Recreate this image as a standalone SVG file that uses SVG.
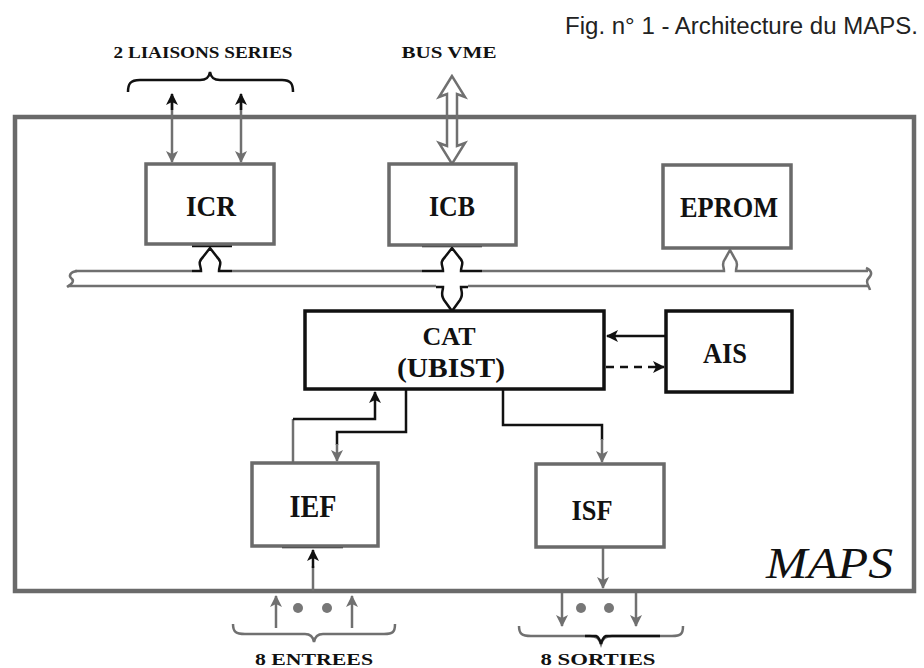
<svg xmlns="http://www.w3.org/2000/svg" width="924" height="668" viewBox="0 0 924 668">
<style>
.lbl{font-family:"Liberation Serif",serif;font-weight:bold;fill:#111;text-anchor:middle}
.g{fill:none;stroke:#707070;stroke-width:2.5}
.k{fill:none;stroke:#111;stroke-width:2.5}
.gbox{fill:#fff;stroke:#6a6a6a;stroke-width:3.5}
.kbox{fill:#fff;stroke:#111;stroke-width:3.5}
</style>
<defs>
<marker id="ag" markerWidth="12" markerHeight="14" refX="11" refY="6" orient="auto" markerUnits="userSpaceOnUse"><path d="M0,0 L12,6 L0,12 L3,6 Z" fill="#707070"/></marker>
<marker id="ak" markerWidth="12" markerHeight="14" refX="11" refY="6" orient="auto" markerUnits="userSpaceOnUse"><path d="M0,0 L12,6 L0,12 L3,6 Z" fill="#111"/></marker>
</defs>
<rect width="924" height="668" fill="#fff"/>
<text x="565" y="34" font-family="Liberation Sans,sans-serif" font-size="23" textLength="353" lengthAdjust="spacingAndGlyphs" fill="#222">Fig. n° 1 - Architecture du MAPS.</text>
<text class="lbl" x="203" y="58" font-size="16" textLength="179" lengthAdjust="spacingAndGlyphs">2 LIAISONS  SERIES</text>
<text class="lbl" x="449" y="58" font-size="16" textLength="95" lengthAdjust="spacingAndGlyphs">BUS  VME</text>
<!-- outer box -->
<g id="maps">
<rect x="15" y="117" width="899" height="474" fill="none" stroke="#6a6a6a" stroke-width="4.5"/>
<text x="766" y="578" font-family="Liberation Serif,serif" font-style="italic" font-size="44" textLength="127" lengthAdjust="spacingAndGlyphs" fill="#111">MAPS</text>
</g>
<g id="connectors">
<!-- liaisons brace -->
<path class="k" d="M128,92 C128,84 130,80 140,80 L200,80 C206,80 209,78 210,72 C211,78 214,80 220,80 L282,80 C291,80 293,84 293,92"/>
<!-- ICR serial arrows -->
<line class="g" x1="172" y1="96" x2="172" y2="162" marker-end="url(#ag)"/>
<line class="k" x1="172" y1="110" x2="172" y2="94" marker-end="url(#ak)"/>
<line class="g" x1="241" y1="96" x2="241" y2="162" marker-end="url(#ag)"/>
<line class="k" x1="241" y1="110" x2="241" y2="94" marker-end="url(#ak)"/>
<!-- VME hollow double arrow -->
<path class="g" d="M452,76 L439,97 L447,94 L447,146 L439,143 L452,164 L465,143 L457,146 L457,94 L465,97 Z"/>
<!-- bus -->
<path class="g" d="M75,271 L192,271 M232,271 L422,271 M482,271 L718,271 M740,271 L868,271"/>
<path class="g" d="M68,286 L436,286 M468,286 L868,286"/>
<path class="g" d="M77,271 C70,272 68,276 72,279 C75,282 70,285 67,287"/>
<path class="g" d="M866,268 C873,271 872,275 868,279 C865,282 869,286 870,290"/>
<!-- ICR bus connection -->
<line class="k" x1="192" y1="246" x2="232" y2="246"/>
<path class="k" d="M192,271 L201,271 C201,265 197,263 203,257 L210,248 L217,257 C223,263 219,265 219,271 L232,271"/>
<!-- ICB bus connection -->
<line class="k" x1="422" y1="246" x2="482" y2="246" stroke-width="3"/>
<path class="k" d="M422,271 L443,271 C443,265 439,263 445,257 L452,248 L459,257 C465,263 461,265 461,271 L482,271" stroke-width="3"/>
<path class="k" d="M436,287 L443,287 C443,292 440,294 444,300 L452,311 L460,300 C464,294 461,292 461,287 L468,287" stroke-width="3"/>
<!-- EPROM bus connection -->
<path class="g" d="M718,271 L724,271 C724,266 721,264 725,259 L730,250 L735,259 C739,264 736,266 736,271 L740,271"/>
<!-- AIS <-> CAT -->
<line class="k" x1="666" y1="336" x2="607" y2="336" marker-end="url(#ak)"/>
<line class="k" x1="606" y1="367" x2="664" y2="367" stroke-dasharray="8,6" marker-end="url(#ak)"/>
<!-- IEF -> CAT -->
<path class="g" d="M293,462 L293,419"/>
<path class="k" d="M293,419 L375,419 L375,392" marker-end="url(#ak)"/>
<!-- CAT -> IEF -->
<path class="k" d="M406,390 L406,432 L337,432 L337,445"/>
<line class="g" x1="337" y1="444" x2="337" y2="461" marker-end="url(#ag)"/>
<!-- CAT -> ISF -->
<path class="k" d="M503,390 L503,425 L602,425 L602,440"/>
<line class="g" x1="602" y1="439" x2="602" y2="462" marker-end="url(#ag)"/>
<!-- IEF input -->
<line class="k" x1="282" y1="547" x2="343" y2="547" stroke-width="3"/>
<line class="g" x1="313" y1="591" x2="313" y2="566"/>
<line class="k" x1="313" y1="568" x2="313" y2="550" marker-end="url(#ak)"/>
<!-- ISF output -->
<line class="g" x1="603" y1="548" x2="603" y2="588" marker-end="url(#ag)"/>
<!-- entrees -->
<line class="g" x1="276" y1="628" x2="276" y2="596" marker-end="url(#ag)"/>
<line class="g" x1="352" y1="628" x2="352" y2="596" marker-end="url(#ag)"/>
<circle cx="298" cy="608" r="5" fill="#777"/>
<circle cx="327" cy="608" r="5" fill="#777"/>
<path class="g" d="M233,624 C233,632 236,634 245,634 L305,634 C310,634 313,636 314,642 C315,636 318,634 323,634 L384,634 C393,634 395,632 395,624"/>
<!-- sorties -->
<line class="g" x1="562" y1="593" x2="562" y2="626" marker-end="url(#ag)"/>
<line class="g" x1="636" y1="593" x2="636" y2="626" marker-end="url(#ag)"/>
<circle cx="581" cy="608" r="5" fill="#777"/>
<circle cx="609" cy="608" r="5" fill="#777"/>
<path class="g" d="M519,626 C519,634 522,636 531,636 L590,636 C596,636 599,638 601,644 C603,638 606,636 612,636 L672,636 C681,636 683,634 683,626"/>
<path class="k" d="M585,636 L596,636 C599,637 600,640 601,644 C602,640 603,637 606,636 L660,636" stroke-width="3"/>
</g>
<g id="ICR"><rect class="gbox" x="146" y="164" width="128" height="80"/><text class="lbl" x="211" y="216" font-size="29" textLength="50" lengthAdjust="spacingAndGlyphs">ICR</text></g>
<g id="ICB"><rect class="gbox" x="389" y="164" width="127" height="81"/><text class="lbl" x="452" y="216" font-size="29" textLength="46" lengthAdjust="spacingAndGlyphs">ICB</text></g>
<g id="EPROM"><rect class="gbox" x="663" y="165" width="128" height="83"/><text class="lbl" x="729" y="217" font-size="29" textLength="98" lengthAdjust="spacingAndGlyphs">EPROM</text></g>
<g id="CAT"><rect class="kbox" x="305" y="311" width="299" height="78"/><text class="lbl" x="449" y="345" font-size="26" textLength="53" lengthAdjust="spacingAndGlyphs">CAT</text><text class="lbl" x="451" y="377" font-size="27" font-weight="normal" textLength="108" lengthAdjust="spacingAndGlyphs">(UBIST)</text></g>
<g id="AIS"><rect class="kbox" x="666" y="311" width="126" height="81"/><text class="lbl" x="725" y="363" font-size="30" textLength="44" lengthAdjust="spacingAndGlyphs">AIS</text></g>
<g id="IEF"><rect class="gbox" x="252" y="463" width="126" height="83"/><text class="lbl" x="313" y="517" font-size="31" textLength="47" lengthAdjust="spacingAndGlyphs">IEF</text></g>
<g id="ISF"><rect class="gbox" x="536" y="464" width="128" height="83"/><text class="lbl" x="592" y="520" font-size="30" textLength="41" lengthAdjust="spacingAndGlyphs">ISF</text></g>
<text class="lbl" x="314" y="665" font-size="17" textLength="118" lengthAdjust="spacingAndGlyphs">8  ENTREES</text>
<text class="lbl" x="598" y="665" font-size="17" textLength="115" lengthAdjust="spacingAndGlyphs">8  SORTIES</text>
</svg>
